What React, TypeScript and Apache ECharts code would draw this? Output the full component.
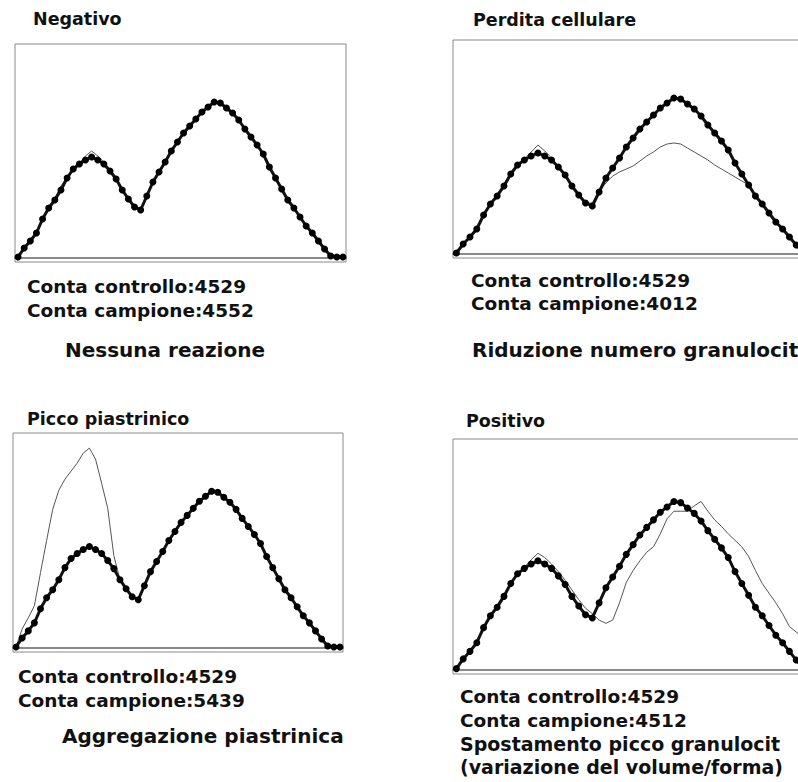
import React, { useEffect, useRef } from "react";
import * as echarts from "echarts";

// Channel numbers (x bins of the volume histogram)
const channels = [
  1, 2, 3, 4, 5, 6, 7, 8, 9, 10, 11, 12, 13, 14, 15, 16, 17, 18, 19, 20, 21, 22, 23, 24, 25, 26, 27,
  28, 29, 30, 31, 32, 33, 34, 35, 36, 37, 38, 39, 40, 41, 42, 43, 44, 45, 46, 47, 48, 49, 50, 51, 52,
  53, 54,
];

// Control histogram (dotted curve), same in every panel
const control = [
  1, 10, 17, 25, 39, 50, 58, 68, 80, 89, 94, 98, 101, 98, 94, 87, 79, 68, 59, 51, 48, 62, 76, 86, 96,
  107, 116, 125, 132, 139, 146, 151, 156, 155, 150, 145, 138, 129, 121, 113, 104, 91, 80, 69, 58, 50,
  41, 32, 25, 17, 9, 2, 1, 1,
];

// Sample histograms (thin line)
const sampleNegativo = [
  1, 10, 17, 26, 40, 51, 60, 72, 81, 89, 95, 102, 107, 102, 96, 88, 79, 68, 59, 51, 49, 62, 76, 86, 96,
  107, 116, 125, 132, 139, 146, 151, 156, 155, 150, 145, 138, 129, 121, 113, 104, 91, 80, 69, 58, 50,
  41, 32, 25, 17, 9, 2, 1, 1,
];
const samplePerdita = [
  1, 10, 17, 26, 40, 51, 60, 70, 81, 89, 95, 102, 109, 103, 96, 87, 79, 68, 59, 51, 51, 63, 71, 78, 82,
  85, 88, 93, 98, 102, 107, 110, 111, 110, 106, 102, 98, 94, 89, 85, 81, 77, 73, 69, 58, 50, 41, 32,
  25, 17, 9, 2, 1, 1,
];
const samplePicco = [
  1, 19, 30, 42, 75, 107, 138, 157, 168, 176, 184, 194, 199, 188, 164, 139, 92, 68, 59, 51, 48, 62, 76,
  86, 96, 107, 116, 125, 132, 139, 146, 151, 156, 155, 150, 145, 138, 129, 121, 113, 104, 91, 80, 69,
  58, 50, 41, 32, 25, 17, 9, 2, 1, 1,
];
const samplePositivo = [
  1, 10, 17, 26, 40, 51, 60, 70, 81, 89, 95, 102, 108, 104, 98, 91, 83, 74, 65, 57, 52, 46, 43, 46, 62,
  81, 92, 101, 109, 114, 126, 140, 147, 147, 147, 152, 156, 147, 139, 133, 126, 120, 114, 105, 92, 80,
  71, 62, 52, 40, 35, 30, 22, 15,
];

const samples = [sampleNegativo, samplePerdita, samplePicco, samplePositivo];

const titles = ["Negativo", "Perdita cellulare", "Picco piastrinico", "Positivo"];
const controlCounts = [4529, 4529, 4529, 4529];
const sampleCounts = [4552, 4012, 5439, 4512];
const outcomes = [
  ["Nessuna reazione"],
  ["Riduzione numero granulocit"],
  ["Aggregazione piastrinica"],
  ["Spostamento picco granulocit", "(variazione del volume/forma)"],
];

export default function App() {
  const ref = useRef<HTMLDivElement>(null);

  useEffect(() => {
    if (!ref.current) return;
    const chart = echarts.init(ref.current, undefined, { renderer: "svg" });

    const grids = [
      { left: 15, top: 44, width: 331, height: 218 },
      { left: 453, top: 40, width: 367, height: 218 },
      { left: 13, top: 433, width: 330, height: 219 },
      { left: 453, top: 439, width: 367, height: 235 },
    ];

    const FONT = '"DejaVu Sans", Arial, sans-serif';
    const txt = (text: string, x: number, y: number, size: number) => ({
      type: "text",
      x,
      y,
      silent: true,
      style: {
        text,
        fill: "#111",
        font: `bold ${size}px ${FONT}`,
        textAlign: "left",
        textVerticalAlign: "middle",
        align: "left",
        verticalAlign: "middle",
      },
    });

    const layout = [
      { tx: 33, ty: 19, cx: 27, cy: [286.5, 310.5], ox: 65, oy: [350], os: 20 },
      { tx: 473, ty: 20, cx: 471, cy: [280.5, 303.5], ox: 472, oy: [350], os: 20 },
      { tx: 27, ty: 419, cx: 18, cy: [676.5, 700.5], ox: 62, oy: [736], os: 20 },
      { tx: 466, ty: 421, cx: 460, cy: [696.5, 720.5], ox: 460, oy: [743.5, 766.5], os: 19 },
    ];

    const graphics: any[] = [];
    layout.forEach((l, k) => {
      graphics.push(txt(titles[k], l.tx, l.ty, 17.5));
      graphics.push(txt(`Conta controllo:${controlCounts[k]}`, l.cx, l.cy[0], 18.5));
      graphics.push(txt(`Conta campione:${sampleCounts[k]}`, l.cx, l.cy[1], 18.5));
      outcomes[k].forEach((o, j) => graphics.push(txt(o, l.ox, l.oy[j], l.os)));
    });

    const series: any[] = [];
    for (let k = 0; k < 4; k++) {
      series.push({
        type: "line",
        xAxisIndex: k,
        yAxisIndex: k,
        data: samples[k],
        symbol: "none",
        lineStyle: { color: "#555", width: 1 },
        z: 2,
      });
      series.push({
        type: "line",
        xAxisIndex: k,
        yAxisIndex: k,
        data: control,
        symbol: "circle",
        symbolSize: 7,
        showSymbol: true,
        showAllSymbol: true,
        itemStyle: { color: "#000", borderWidth: 0 },
        lineStyle: { color: "#111", width: 3 },
        z: 3,
      });
    }

    chart.setOption({
      animation: false,
      backgroundColor: "#fff",
      grid: grids.map((g) => ({
        ...g,
        show: true,
        borderColor: "#8a8a8a",
        borderWidth: 1,
        backgroundColor: "transparent",
        containLabel: false,
      })),
      xAxis: grids.map((_, k) => ({
        type: "category",
        gridIndex: k,
        data: channels,
        boundaryGap: true,
        axisLabel: { show: false },
        axisTick: { show: false },
        splitLine: { show: false },
        axisLine: { show: true, lineStyle: { color: "#8a8a8a", width: 2 } },
      })),
      yAxis: grids.map((_, k) => ({
        type: "value",
        gridIndex: k,
        min: -4,
        max: 214,
        axisLabel: { show: false },
        axisTick: { show: false },
        splitLine: { show: false },
        axisLine: { show: false },
      })),
      series,
      graphic: graphics,
    });

    return () => chart.dispose();
  }, []);

  return (
    <div
      style={{
        position: "fixed",
        left: 0,
        top: 0,
        width: 798,
        height: 782,
        overflow: "hidden",
        background: "#fff",
      }}
    >
      <div ref={ref} style={{ width: 840, height: 782 }} />
    </div>
  );
}
